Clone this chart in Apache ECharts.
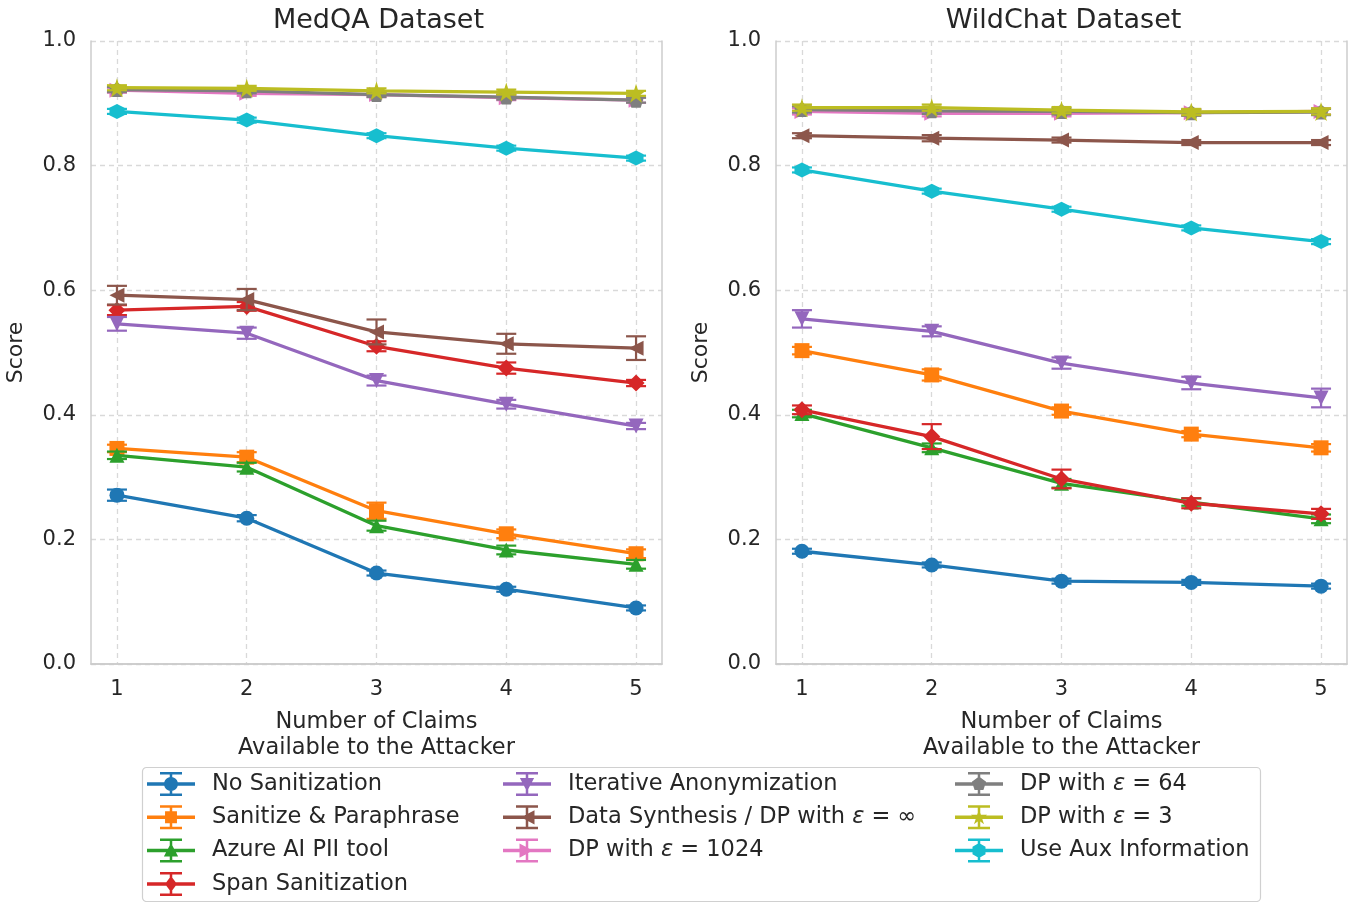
<!DOCTYPE html>
<html>
<head>
<meta charset="utf-8">
<script src="https://cdn.jsdelivr.net/npm/echarts@6/dist/echarts.min.js"></script>
<style>html,body{margin:0;padding:0;background:#fff}#c{width:1355px;height:902px}</style>
</head>
<body>
<div id="c"></div>
<script>
var claims = [1, 2, 3, 4, 5];
var methods = ['No Sanitization', 'Sanitize & Paraphrase', 'Azure AI PII tool', 'Span Sanitization',
  'Iterative Anonymization', 'Data Synthesis / DP with \u03b5 = \u221e', 'DP with \u03b5 = 1024',
  'DP with \u03b5 = 64', 'DP with \u03b5 = 3', 'Use Aux Information'];
var datasetTitles = ['MedQA Dataset', 'WildChat Dataset'];

// MedQA values
var medNoSan   = [0.271, 0.234, 0.146, 0.120, 0.090];
var medSanPara = [0.346, 0.332, 0.246, 0.209, 0.177];
var medAzure   = [0.335, 0.316, 0.222, 0.183, 0.160];
var medSpan    = [0.568, 0.574, 0.510, 0.475, 0.451];
var medIter    = [0.546, 0.531, 0.455, 0.417, 0.382];
var medSynth   = [0.592, 0.585, 0.533, 0.514, 0.507];
var medDP1024  = [0.921, 0.916, 0.914, 0.909, 0.905];
var medDP64    = [0.922, 0.920, 0.914, 0.910, 0.905];
var medDP3     = [0.925, 0.924, 0.920, 0.918, 0.916];
var medAux     = [0.887, 0.873, 0.848, 0.828, 0.812];
// MedQA error bars
var medNoSanErr   = [0.009, 0.005, 0.004, 0.004, 0.004];
var medSanParaErr = [0.006, 0.008, 0.013, 0.007, 0.007];
var medAzureErr   = [0.006, 0.007, 0.008, 0.007, 0.007];
var medSpanErr    = [0.008, 0.007, 0.008, 0.009, 0.005];
var medIterErr    = [0.011, 0.009, 0.008, 0.007, 0.005];
var medSynthErr   = [0.015, 0.017, 0.020, 0.016, 0.019];
var medDP1024Err  = [0.004, 0.004, 0.004, 0.004, 0.004];
var medDP64Err    = [0.004, 0.004, 0.004, 0.004, 0.004];
var medDP3Err     = [0.004, 0.004, 0.004, 0.004, 0.004];
var medAuxErr     = [0.004, 0.004, 0.004, 0.004, 0.004];

// WildChat values
var wcNoSan   = [0.181, 0.159, 0.133, 0.131, 0.125];
var wcSanPara = [0.503, 0.464, 0.406, 0.369, 0.347];
var wcAzure   = [0.402, 0.347, 0.290, 0.260, 0.233];
var wcSpan    = [0.408, 0.365, 0.297, 0.258, 0.241];
var wcIter    = [0.554, 0.534, 0.483, 0.451, 0.427];
var wcSynth   = [0.848, 0.844, 0.841, 0.837, 0.837];
var wcDP1024  = [0.887, 0.884, 0.884, 0.885, 0.887];
var wcDP64    = [0.890, 0.888, 0.887, 0.885, 0.886];
var wcDP3     = [0.893, 0.893, 0.889, 0.886, 0.887];
var wcAux     = [0.793, 0.759, 0.730, 0.700, 0.678];
// WildChat error bars
var wcNoSanErr   = [0.004, 0.004, 0.004, 0.004, 0.004];
var wcSanParaErr = [0.006, 0.009, 0.006, 0.005, 0.006];
var wcAzureErr   = [0.006, 0.007, 0.007, 0.006, 0.007];
var wcSpanErr    = [0.007, 0.020, 0.015, 0.008, 0.008];
var wcIterErr    = [0.014, 0.008, 0.009, 0.010, 0.015];
var wcSynthErr   = [0.004, 0.005, 0.004, 0.004, 0.004];
var wcDP1024Err  = [0.005, 0.005, 0.005, 0.005, 0.005];
var wcDP64Err    = [0.005, 0.005, 0.005, 0.005, 0.005];
var wcDP3Err     = [0.005, 0.005, 0.005, 0.005, 0.005];
var wcAuxErr     = [0.004, 0.004, 0.004, 0.004, 0.004];

var values = [
  [medNoSan, medSanPara, medAzure, medSpan, medIter, medSynth, medDP1024, medDP64, medDP3, medAux],
  [wcNoSan, wcSanPara, wcAzure, wcSpan, wcIter, wcSynth, wcDP1024, wcDP64, wcDP3, wcAux]
];
var errors = [
  [medNoSanErr, medSanParaErr, medAzureErr, medSpanErr, medIterErr, medSynthErr, medDP1024Err, medDP64Err, medDP3Err, medAuxErr],
  [wcNoSanErr, wcSanParaErr, wcAzureErr, wcSpanErr, wcIterErr, wcSynthErr, wcDP1024Err, wcDP64Err, wcDP3Err, wcAuxErr]
];

var colors = ['#1f77b4', '#ff7f0e', '#2ca02c', '#d62728', '#9467bd', '#8c564b', '#e377c2', '#7f7f7f', '#bcbd22', '#17becf'];

// unit marker polygons (clockwise on screen)
function circlePts() {
  var p = [];
  for (var i = 0; i < 24; i++) { var a = i / 24 * Math.PI * 2; p.push([Math.cos(a), Math.sin(a)]); }
  return p;
}
var markerPts = [
  circlePts(),
  [[-0.85, -0.85], [0.85, -0.85], [0.85, 0.85], [-0.85, 0.85]],
  [[0, -1], [0.95, 0.8], [-0.95, 0.8]],
  [[0, -1], [0.75, 0], [0, 1], [-0.75, 0]],
  [[-0.95, -0.8], [0.95, -0.8], [0, 1]],
  [[1, -0.95], [1, 0.95], [-0.8, 0]],
  [[-1, -0.95], [0.8, 0], [-1, 0.95]],
  [[0, -1], [0.951, -0.309], [0.588, 0.809], [-0.588, 0.809], [-0.951, -0.309]],
  [[0, -1], [0.2234, -0.3074], [0.9511, -0.309], [0.3614, 0.1174], [0.5878, 0.809], [0, 0.38],
   [-0.5878, 0.809], [-0.3614, 0.1174], [-0.9511, -0.309], [-0.2234, -0.3074]],
  [[0, -1], [0.866, -0.5], [0.866, 0.5], [0, 1], [-0.866, 0.5], [-0.866, -0.5]]
];
var symbolSizes = [15, 15, 15, 17, 15, 15, 15, 15, 19, 15];
var legendMarkerHalf = [7, 7, 7.5, 8, 7.5, 7.5, 7.5, 7.5, 8.5, 7.5];

function polyPath(pts, cx, cy, s) {
  var out = '';
  for (var i = 0; i < pts.length; i++) {
    out += (i === 0 ? 'M' : ' L') + (cx + pts[i][0] * s).toFixed(2) + ',' + (cy + pts[i][1] * s).toFixed(2);
  }
  return out + ' Z';
}
function rectPath(x0, y0, x1, y1) {
  return 'M' + x0 + ',' + y0 + ' L' + x1 + ',' + y0 + ' L' + x1 + ',' + y1 + ' L' + x0 + ',' + y1 + ' Z';
}
var seriesSymbols = markerPts.map(function (pts) { return 'path://' + polyPath(pts, 0, 0, 1); });
seriesSymbols[0] = 'circle';
var legendIcons = markerPts.map(function (pts, i) {
  var W = 48, H = 24, cx = 24, cy = 12;
  return 'path://' + rectPath(0, 10.25, W, 13.75) + ' ' + rectPath(22.75, 0, 25.25, H) + ' ' +
    rectPath(13, 0, 35, 2.5) + ' ' + rectPath(13, H - 2.5, 35, H) + ' ' + polyPath(pts, cx, cy, legendMarkerHalf[i]);
});

var textColor = '#262626';
var gridColor = '#d9d9d9';
var spineColor = '#cccccc';
var fontFam = 'DejaVu Sans';

var grids = [
  {left: 91, top: 41, width: 571, height: 623},
  {left: 776, top: 41, width: 571, height: 623}
];

var xAxes = [], yAxes = [], series = [], titles = [];
for (var g = 0; g < 2; g++) {
  titles.push({
    text: datasetTitles[g], left: grids[g].left + grids[g].width / 2 - 3, top: 2, textAlign: 'center',
    textStyle: {fontFamily: fontFam, fontSize: 27, fontWeight: 'normal', color: textColor}
  });
  xAxes.push({
    type: 'value', gridIndex: g, min: 0.8, max: 5.2,
    name: 'Number of Claims\nAvailable to the Attacker', nameLocation: 'middle', nameGap: 45,
    nameTextStyle: {fontFamily: fontFam, fontSize: 22.5, color: textColor, lineHeight: 26},
    axisLine: {show: true, onZero: false, lineStyle: {color: spineColor, width: 1.5}},
    axisTick: {show: false, customValues: claims},
    axisLabel: {customValues: claims, fontFamily: fontFam, fontSize: 21, color: textColor, margin: 15},
    splitLine: {show: true, lineStyle: {color: gridColor, type: [5, 4], width: 1.3}}
  });
  xAxes.push({
    type: 'value', gridIndex: g, min: 0.8, max: 5.2, position: 'top',
    axisLine: {show: true, lineStyle: {color: spineColor, width: 1.5}},
    axisTick: {show: false}, axisLabel: {show: false}, splitLine: {show: false}
  });
  yAxes.push({
    type: 'value', gridIndex: g, min: 0, max: 1.0, interval: 0.2,
    name: 'Score', nameLocation: 'middle', nameGap: 64,
    nameTextStyle: {fontFamily: fontFam, fontSize: 22, color: textColor},
    axisLine: {show: true, lineStyle: {color: spineColor, width: 1.5}},
    axisTick: {show: false},
    axisLabel: {fontFamily: fontFam, fontSize: 21, color: textColor, margin: 15,
      formatter: function (v) { return v.toFixed(1); }},
    splitLine: {show: true, lineStyle: {color: gridColor, type: [5, 4], width: 1.3}}
  });
  yAxes.push({
    type: 'value', gridIndex: g, min: 0, max: 1.0, interval: 0.2, position: 'right',
    axisLine: {show: true, lineStyle: {color: spineColor, width: 1.5}},
    axisTick: {show: false}, axisLabel: {show: false}, splitLine: {show: false}
  });

  for (var m = 0; m < methods.length; m++) {
    (function (g, m) {
      var vals = values[g][m], errs = errors[g][m];
      var lineData = [], errData = [];
      for (var i = 0; i < claims.length; i++) {
        lineData.push([claims[i], vals[i]]);
        errData.push([claims[i], vals[i], errs[i]]);
      }
      var col = colors[m];
      series.push({
        type: 'custom', xAxisIndex: g * 2, yAxisIndex: g * 2, z: 2 + m,
        silent: true, encode: {x: 0, y: 1},
        renderItem: function (params, api) {
          var x = api.value(0), y = api.value(1), e = api.value(2);
          var t = api.coord([x, y + e]), b = api.coord([x, y - e]);
          var hw = 10;
          var st = {stroke: col, lineWidth: 2.2};
          return {type: 'group', children: [
            {type: 'line', shape: {x1: t[0], y1: t[1], x2: b[0], y2: b[1]}, style: st},
            {type: 'line', shape: {x1: t[0] - hw, y1: t[1], x2: t[0] + hw, y2: t[1]}, style: st},
            {type: 'line', shape: {x1: b[0] - hw, y1: b[1], x2: b[0] + hw, y2: b[1]}, style: st}
          ]};
        },
        data: errData
      });
      series.push({
        type: 'line', name: methods[m], xAxisIndex: g * 2, yAxisIndex: g * 2, z: 2 + m,
        data: lineData, symbol: seriesSymbols[m], symbolSize: symbolSizes[m], showSymbol: true,
        lineStyle: {color: col, width: 3.3}, itemStyle: {color: col},
        emphasis: {disabled: true}, animation: false
      });
    })(g, m);
  }
}

function legendCol(from, to, left) {
  var data = [];
  for (var i = from; i < to; i++) data.push({name: methods[i], icon: legendIcons[i]});
  return {
    orient: 'vertical', left: left, top: 772, height: 128, padding: 0,
    itemWidth: 48, itemHeight: 24, itemGap: 9.3,
    data: data, selectedMode: false,
    formatter: function (name) {
      var idx = name.indexOf('\u03b5');
      if (idx < 0) return '{a|' + name + '}';
      return '{a|' + name.slice(0, idx) + '}{e|\u03b5}{a|' + name.slice(idx + 1) + '}';
    },
    textStyle: {
      fontFamily: fontFam, fontSize: 22.5, color: textColor, padding: [0, 0, 0, 12],
      rich: {
        a: {fontFamily: fontFam, fontSize: 22.5, color: textColor},
        e: {fontFamily: fontFam, fontSize: 22.5, color: textColor, fontStyle: 'italic'}
      }
    }
  };
}

var option = {
  animation: false,
  color: colors,
  title: titles,
  grid: grids,
  xAxis: xAxes,
  yAxis: yAxes,
  legend: [
    legendCol(0, 4, 147),
    legendCol(4, 7, 503),
    legendCol(7, 10, 955)
  ],
  graphic: [{
    type: 'rect', left: 140, top: 765, shape: {width: 1118, height: 134, r: 4},
    style: {fill: 'none', stroke: '#d0d0d0', lineWidth: 1.2}, silent: true, z: -1
  }],
  series: series
};

var chart = echarts.init(document.getElementById('c'));
chart.setOption(option);
</script>
</body>
</html>
